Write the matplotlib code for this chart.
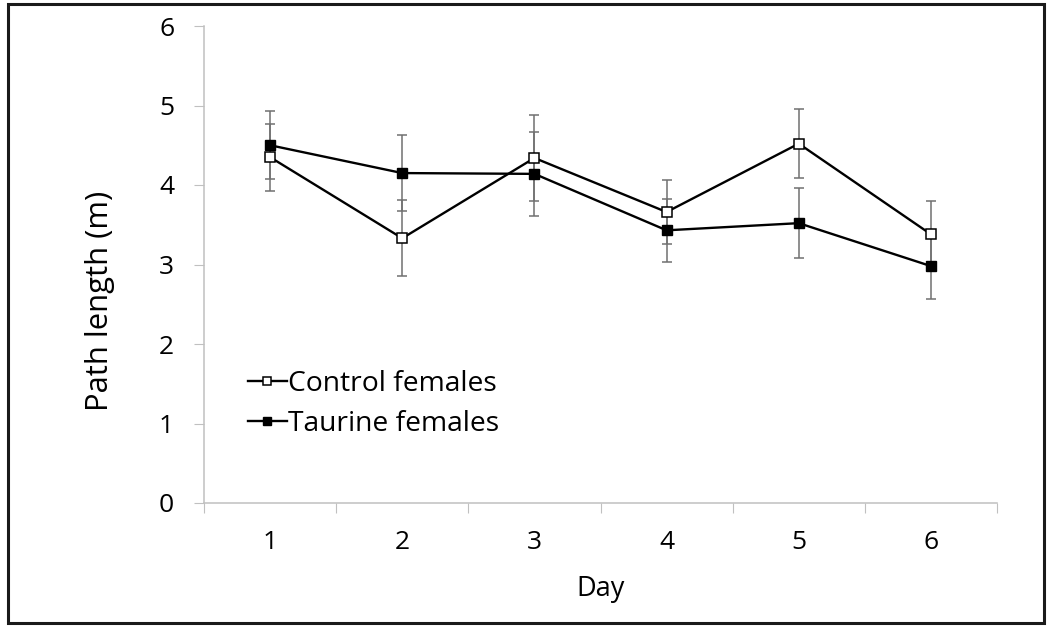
import matplotlib.pyplot as plt
from matplotlib.patches import Rectangle

days = [1, 2, 3, 4, 5, 6]
control = [4.35, 3.33, 4.34, 3.66, 4.52, 3.38]
control_err = [0.42, 0.48, 0.54, 0.40, 0.43, 0.42]
taurine = [4.50, 4.15, 4.14, 3.43, 3.52, 2.98]
taurine_err = [0.43, 0.48, 0.53, 0.40, 0.44, 0.41]

plt.rcParams['font.family'] = ['Open Sans', 'DejaVu Sans']

fig = plt.figure(figsize=(10.5, 6.3), dpi=100)
ax = fig.add_axes([204 / 1050, 1 - 503 / 630, 793 / 1050, 477 / 630])

# outer frame round the whole picture
fig.patches.append(Rectangle((8 / 1050, 1 - 623 / 630), 1036 / 1050, 619 / 630,
                             transform=fig.transFigure, fill=False,
                             edgecolor='#1a1a1a', linewidth=2.2))

for y, err in [(control, control_err), (taurine, taurine_err)]:
    ax.errorbar(days, y, yerr=err, fmt='none', ecolor='#707070',
                elinewidth=1.1, capsize=3.5, capthick=1.1, zorder=1)

ax.plot(days, control, color='black', lw=1.7, marker='s', ms=7.5,
        mfc='white', mec='black', mew=1.1, label='Control females', zorder=3)
ax.plot(days, taurine, color='black', lw=1.7, marker='s', ms=7.5,
        mfc='black', mec='black', label='Taurine females', zorder=3)

ax.set_xlim(0.5, 6.5)
ax.set_ylim(0, 6)
ax.set_yticks(range(7))
ax.set_xticks([0.5 + i for i in range(7)])
ax.set_xticklabels([])
ax.set_xticks(days, minor=True)
ax.set_xticklabels([str(d) for d in days], minor=True)

for s in ['top', 'right']:
    ax.spines[s].set_visible(False)
for s in ['left', 'bottom']:
    ax.spines[s].set_color('#c0c0c0')
    ax.spines[s].set_linewidth(1.1)

ax.tick_params(axis='y', length=7.5, color='#c0c0c0', labelsize=19, pad=14)
ax.tick_params(axis='x', which='major', length=7.5, color='#c0c0c0')
ax.tick_params(axis='x', which='minor', length=0, labelsize=19, pad=19.5)

ax.set_xlabel('Day', fontsize=19.5)
ax.xaxis.set_label_coords(0.5, -0.151)
ax.set_ylabel('Path length (m)', fontsize=22.3, va='center')
ax.yaxis.set_label_coords(-0.131, 0.4235)

ax.legend(loc='upper left', bbox_to_anchor=(0.0555, 0.279), frameon=False,
          fontsize=20.3, handlelength=1.38, handletextpad=0.03, borderaxespad=0,
          borderpad=0, labelspacing=0.44, markerscale=0.75)

fig.savefig('out.png', dpi=100)
